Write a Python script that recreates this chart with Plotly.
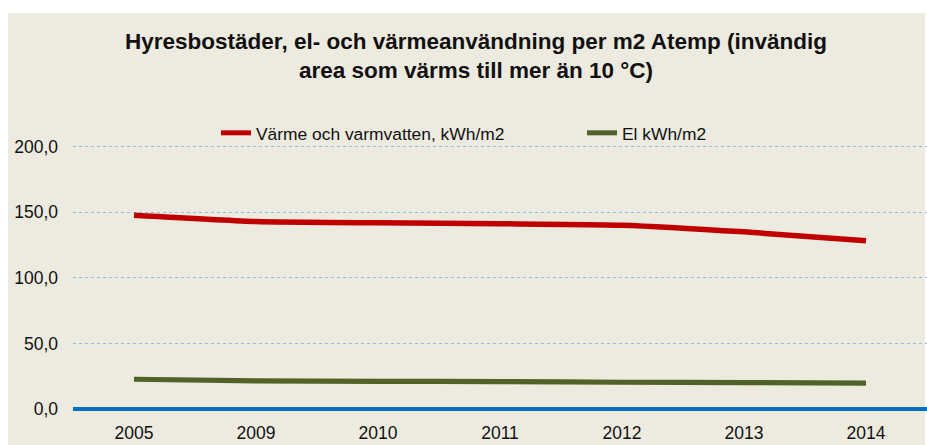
import plotly.graph_objects as go

years = ["2005", "2009", "2010", "2011", "2012", "2013", "2014"]
heat = [147.7, 142.9, 141.9, 141.2, 140.1, 135.0, 128.2]
el = [22.7, 21.4, 21.1, 20.9, 20.4, 20.1, 19.8]
y_ticks = [0, 50, 100, 150, 200]
y_labels = ["0,0", "50,0", "100,0", "150,0", "200,0"]

BG = "#EDEAE0"
FONT = "Liberation Sans, Arial, sans-serif"

W, H = 927, 445
L, T, B, R = 73, 140, 34, 0
pw = W - L - R
ph = H - T - B


def px_x(px):
    return (px - L) / pw


def px_y(py):
    return (H - B - py) / ph


fig = go.Figure()
fig.add_trace(go.Scatter(
    x=years, y=heat, mode="lines", name="Värme och varmvatten, kWh/m2",
    line=dict(color="#C00000", width=5.5, shape="spline", smoothing=0.5),
    legend="legend",
))
fig.add_trace(go.Scatter(
    x=years, y=el, mode="lines", name="El kWh/m2",
    line=dict(color="#4F6228", width=5.2, shape="spline", smoothing=0.5),
    legend="legend2",
))

# white border strips (top, left, right) over the beige page background
fig.add_shape(type="rect", xref="paper", yref="paper",
              x0=px_x(-5), x1=px_x(W + 5), y0=px_y(13), y1=px_y(-5),
              fillcolor="white", line=dict(width=0), layer="below")
fig.add_shape(type="rect", xref="paper", yref="paper",
              x0=px_x(-5), x1=px_x(8), y0=px_y(H + 5), y1=px_y(-5),
              fillcolor="white", line=dict(width=0), layer="below")
fig.add_shape(type="rect", xref="paper", yref="paper",
              x0=px_x(925), x1=px_x(W + 5), y0=px_y(H + 5), y1=px_y(-5),
              fillcolor="white", line=dict(width=0), layer="below")
fig.add_shape(type="line", xref="paper", yref="y", x0=0, x1=1, y0=0, y1=0,
              line=dict(color="#0070C0", width=4), layer="above")

leg_common = dict(
    orientation="h", xanchor="left", yanchor="middle",
    xref="container", yref="container",
    bgcolor="rgba(0,0,0,0)", font=dict(family=FONT, size=17.4, color="#111111"),
    itemsizing="constant",
)

fig.update_layout(
    width=W, height=H,
    margin=dict(l=L, r=R, t=T, b=B, autoexpand=False),
    paper_bgcolor=BG,
    plot_bgcolor="rgba(0,0,0,0)",
    font=dict(family=FONT, size=17, color="#111111"),
    title=dict(
        text="<b>Hyresbostäder, el- och värmeanvändning per m2 Atemp (invändig<br>area som värms till mer än 10 °C)</b>",
        x=476 / W, xref="container", xanchor="center",
        y=1 - 49 / H, yref="container", yanchor="top",
        font=dict(family=FONT, size=22.5, color="#111111"),
    ),
    legend=dict(x=216 / W, y=1 - 133 / H, **leg_common),
    legend2=dict(x=582 / W, y=1 - 133 / H, **leg_common),
    showlegend=True,
)
fig.update_xaxes(
    type="category", range=[-0.5, 6.5], showgrid=False, zeroline=False,
    showline=False, ticks="", ticklabelstandoff=9,
    tickfont=dict(family=FONT, size=17.5, color="#111111"),
)
fig.update_yaxes(
    range=[-1.5, 205], tickvals=y_ticks, ticktext=y_labels,
    showgrid=True, gridcolor="#93BBE0", gridwidth=1, griddash="dot",
    zeroline=False, showline=False, ticks="", ticklabelstandoff=14,
    tickfont=dict(family=FONT, size=17.5, color="#111111"),
)

fig.write_html(
    "out.html",
    config={"displayModeBar": False},
    post_script="document.body.style.margin='0';document.body.style.overflow='hidden';",
)
